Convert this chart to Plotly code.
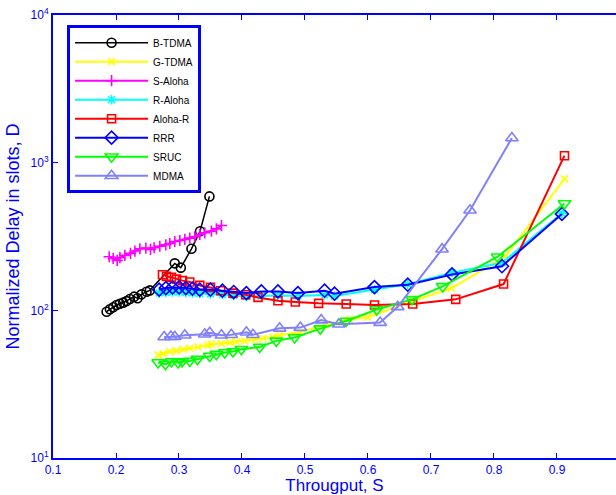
import plotly.graph_objects as go

# ---------------- data ----------------
btdma_x = [0.1851, 0.1903, 0.1956, 0.2009, 0.2062, 0.2114, 0.2168, 0.2220, 0.2288, 0.2342,
           0.2406, 0.2485, 0.2537, 0.2933, 0.3029, 0.3198, 0.3334, 0.3483]
btdma_y = [97.9, 101.6, 105, 108.6, 110.9, 112.7, 115.5, 119.4, 123.8, 120.6,
           128.3, 133.7, 136.5, 208, 194.5, 261, 343.6, 591]

gtdma_x = [0.2669, 0.2748, 0.2854, 0.2960, 0.3065, 0.3171, 0.3303, 0.3461, 0.3515, 0.3674,
           0.3805, 0.3911, 0.4043, 0.4201, 0.4333, 0.4491, 0.4597, 0.4914, 0.5311, 0.5707,
           0.5992, 0.6705, 0.7323, 0.8179, 0.9119]
gtdma_y = [49.9, 50.9, 52.6, 53.1, 54.5, 55.4, 56.5, 58.1, 58.9, 59.6,
           60.5, 61.5, 62.1, 63.5, 64.7, 66.0, 68.1, 71.0, 79.4, 86.9,
           89.7, 115.1, 141.0, 231.6, 776]

saloha_x = [0.1892, 0.1956, 0.2019, 0.2062, 0.2141, 0.2231, 0.2300, 0.2379, 0.2474, 0.2548,
            0.2605, 0.2696, 0.2791, 0.2854, 0.2933, 0.3013, 0.3092, 0.3171, 0.3250, 0.3330,
            0.3409, 0.3515, 0.3594, 0.3674]
saloha_y = [230.6, 224.5, 217.6, 227.2, 235.6, 243, 252, 261.3, 263.6, 258.4,
            265.4, 271.6, 277.9, 283.6, 292.5, 297.2, 301.9, 308.4, 314.9, 326.4,
            335, 343.5, 356.4, 375]

raloha_x = [0.2685, 0.2791, 0.2897, 0.3002, 0.3108, 0.3214, 0.3330, 0.3499, 0.3689, 0.3868,
            0.4070, 0.4307, 0.4571, 0.4888, 0.5311, 0.5469, 0.6103, 0.6631, 0.7334, 0.8127,
            0.9078]
raloha_y = [131, 132, 133, 133, 132, 131, 130, 129, 128, 126,
            124, 125, 126, 125, 127, 125, 138, 150, 180, 210, 455]

alohar_x = [0.2738, 0.2802, 0.2881, 0.2960, 0.3055, 0.3171, 0.3330, 0.3499, 0.3662, 0.3857,
            0.4059, 0.4254, 0.4571, 0.4846, 0.5216, 0.5654, 0.6103, 0.6710, 0.7393, 0.8152,
            0.9119]
alohar_y = [174.3, 169.8, 167.1, 162.7, 158.9, 155.4, 147.5, 143, 135.8, 130.8,
            127.6, 122.3, 116.2, 113.8, 111.5, 110.3, 108.6, 110.3, 118.7, 150.6,
            1115]

rrr_x = [0.2685, 0.2791, 0.2897, 0.3002, 0.3108, 0.3214, 0.3330, 0.3499, 0.3689, 0.3868,
         0.4070, 0.4307, 0.4571, 0.4888, 0.5311, 0.5469, 0.6103, 0.6631, 0.7334, 0.8127,
         0.9078]
rrr_y = [138.0, 141.5, 143, 143, 141.5, 140.2, 138, 138, 135.8, 133,
         130.8, 134.3, 134.3, 130.8, 135.8, 129.6, 143.7, 149.1, 175, 199, 450]

sruc_x = [0.2669, 0.2786, 0.2881, 0.2986, 0.3049, 0.3171, 0.3293, 0.3488, 0.3594, 0.3726,
          0.3857, 0.3990, 0.4281, 0.4545, 0.4835, 0.5242, 0.5654, 0.6139, 0.6700, 0.7185,
          0.8057, 0.9119]
sruc_y = [44.3, 43.2, 45.0, 44.3, 45.0, 45.4, 46.7, 49.1, 50.5, 51.8,
          52.6, 54.5, 56.5, 62.1, 65.5, 75.2, 84.7, 101.2, 118.7, 145.3,
          230.7, 528.5]

mdma_x = [0.2764, 0.2870, 0.2933, 0.3092, 0.3409, 0.3488, 0.3674, 0.3829, 0.4070, 0.4174,
          0.4597, 0.4926, 0.5258, 0.5537, 0.6193, 0.6472, 0.7176, 0.7620, 0.8285]
mdma_y = [66.0, 66.4, 66.2, 67.8, 68.9, 70.5, 67.8, 68.3, 71.0, 68.3,
          75.5, 76.4, 85.9, 80.4, 82.6, 105.6, 259.5, 476, 1469]

x_ticks = [0.1, 0.2, 0.3, 0.4, 0.5, 0.6, 0.7, 0.8, 0.9]
y_ticks = [10, 100, 1000, 10000]
y_ticktext = ["10<sup>1</sup>", "10<sup>2</sup>", "10<sup>3</sup>", "10<sup>4</sup>"]

series = [
    ("B-TDMA", btdma_x, btdma_y, "#000000", "circle-open", 9, 1.5),
    ("G-TDMA", gtdma_x, gtdma_y, "#FFFF00", "x-thin-open", 7, 2),
    ("S-Aloha", saloha_x, saloha_y, "#FF00FF", "cross-thin-open", 8, 2),
    ("R-Aloha", raloha_x, raloha_y, "#00FFFF", "asterisk-open", 8, 2),
    ("Aloha-R", alohar_x, alohar_y, "#FF0000", "square-open", 8, 2),
    ("RRR", rrr_x, rrr_y, "#0000FF", "diamond-open", 10, 2),
    ("SRUC", sruc_x, sruc_y, "#00FF00", "triangle-down-open", 11, 2),
    ("MDMA", mdma_x, mdma_y, "#8080FF", "triangle-up-open", 11, 2),
]

fig = go.Figure()
for name, xs, ys, col, sym, msize, lw in series:
    fig.add_trace(go.Scatter(
        x=xs, y=ys, name=name, mode="lines+markers",
        line=dict(color=col, width=lw),
        marker=dict(symbol=sym, size=msize, color=col, line=dict(color=col, width=1.6)),
    ))

FONT = "Liberation Sans, Arial, Helvetica, sans-serif"
BLUE = "#0000FF"

fig.update_layout(
    width=616, height=495,
    margin=dict(l=53, r=0, t=15, b=37, autoexpand=False),
    paper_bgcolor="white", plot_bgcolor="white",
    font=dict(family=FONT, color=BLUE, size=12),
    showlegend=True,
    legend=dict(
        x=0.025, y=0.977, xanchor="left", yanchor="top",
        bgcolor="white", bordercolor=BLUE, borderwidth=3,
        font=dict(family=FONT, size=10, color="#000000"),
        itemwidth=73,
    ),
    xaxis=dict(
        range=[0.1, 0.9937], tickvals=x_ticks, ticktext=[str(v) for v in x_ticks],
        showline=True, linecolor=BLUE, linewidth=2, mirror="ticks",
        ticks="inside", ticklen=5, tickcolor=BLUE, tickwidth=1,
        tickfont=dict(family=FONT, size=12, color=BLUE),
        showgrid=False, zeroline=False, automargin=False,
        title=dict(text="Througput, S", font=dict(family=FONT, size=17, color=BLUE), standoff=11),
    ),
    yaxis=dict(
        type="log", range=[1, 4], tickvals=y_ticks, ticktext=y_ticktext,
        showline=True, linecolor=BLUE, linewidth=2, mirror=False,
        ticks="inside", ticklen=5, tickcolor=BLUE, tickwidth=1,
        tickfont=dict(family=FONT, size=12, color=BLUE),
        showgrid=False, zeroline=False, automargin=False,
        title=dict(text="Normalized Delay in slots, D", font=dict(family=FONT, size=18, color=BLUE), standoff=6),
    ),
)

fig.write_html("out.html")
